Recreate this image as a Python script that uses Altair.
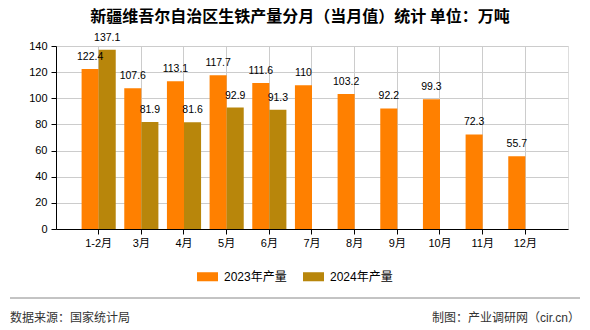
import altair as alt
import pandas as pd

months = ["1-2月", "3月", "4月", "5月", "6月", "7月", "8月", "9月", "10月", "11月", "12月"]
v2023 = [122.4, 107.6, 113.1, 117.7, 111.6, 110, 103.2, 92.2, 99.3, 72.3, 55.7]
v2024 = [137.1, 81.9, 81.6, 92.9, 91.3]
series = ["2023年产量", "2024年产量"]
colors = ["#FF8000", "#B8860B"]

rows = []
for m, v in zip(months, v2023):
    rows.append({"month": m, "series": series[0], "value": v})
for m, v in zip(months, v2024):
    rows.append({"month": m, "series": series[1], "value": v})
df = pd.DataFrame(rows)

FONT = "Liberation Sans, Noto Sans CJK SC"

x = alt.X("month:N", sort=months, title=None,
          scale=alt.Scale(paddingInner=0.2, paddingOuter=0.6),
          axis=alt.Axis(labelAngle=0, labelFontSize=11, labelColor="#000", labelFont=FONT,
                        domainColor="#000", tickColor="#000", tickSize=5, labelPadding=3,
                        grid=True, gridColor="#cccccc", bandPosition=0.5))
xo = alt.XOffset("series:N", sort=series, scale=alt.Scale(domain=series, paddingInner=0, paddingOuter=0))
y = alt.Y("value:Q", title=None, scale=alt.Scale(domain=[0, 140], nice=False),
          axis=alt.Axis(values=list(range(0, 141, 20)), labelFontSize=11, labelColor="#000", labelFont=FONT,
                        domainColor="#000", tickColor="#000", tickSize=5, labelPadding=4,
                        gridColor="#cccccc"))

bars = alt.Chart(df).mark_bar().encode(
    x=x, xOffset=xo, y=y,
    color=alt.Color("series:N", scale=alt.Scale(domain=series, range=colors),
                    legend=alt.Legend(title=None, orient="none", legendX=141, legendY=220,
                                      direction="horizontal",
                                      symbolType="M-1,-0.43L1,-0.43L1,0.43L-1,0.43Z",
                                      symbolSize=441, symbolStrokeWidth=0, symbolOpacity=1,
                                      labelFontSize=12, labelFont=FONT, labelColor="#000",
                                      labelOffset=6, columnPadding=16)),
)

labels = alt.Chart(df).mark_text(baseline="alphabetic", dy=-9, fontSize=10.5,
                                 font="Liberation Sans", color="#000").encode(
    x=x, xOffset=xo, y=y, text=alt.Text("value:Q", format="~f"),
)

footer_df = pd.DataFrame({"left": ["数据来源：国家统计局"], "right": ["制图：产业调研网（cir.cn）"]})
rule = alt.Chart(footer_df).mark_rule(color="#888888", strokeWidth=1).encode(
    x=alt.value(-46), x2=alt.value(524), y=alt.value(252))
ftl = alt.Chart(footer_df).mark_text(align="left", baseline="middle", fontSize=12, font=FONT,
                                     color="#333").encode(
    x=alt.value(-46), y=alt.value(272), text="left:N")
ftr = alt.Chart(footer_df).mark_text(align="right", baseline="middle", fontSize=12, font=FONT,
                                     color="#333").encode(
    x=alt.value(524), y=alt.value(272), text="right:N")

chart = alt.layer(bars, labels, rule, ftl, ftr).properties(
    width=512, height=183,
    title=alt.TitleParams("新疆维吾尔自治区生铁产量分月（当月值）统计 单位：万吨",
                          fontSize=16, font="Noto Sans CJK SC", fontWeight="bold",
                          color="#000", anchor="middle", dx=-12, offset=8),
    autosize=alt.AutoSizeParams(type="none"),
    padding={"left": 56, "top": 46, "right": 22, "bottom": 101},
).configure_view(stroke="#cccccc").configure(background="white")

chart.save("out.html", embed_options={"renderer": "svg", "actions": False})
